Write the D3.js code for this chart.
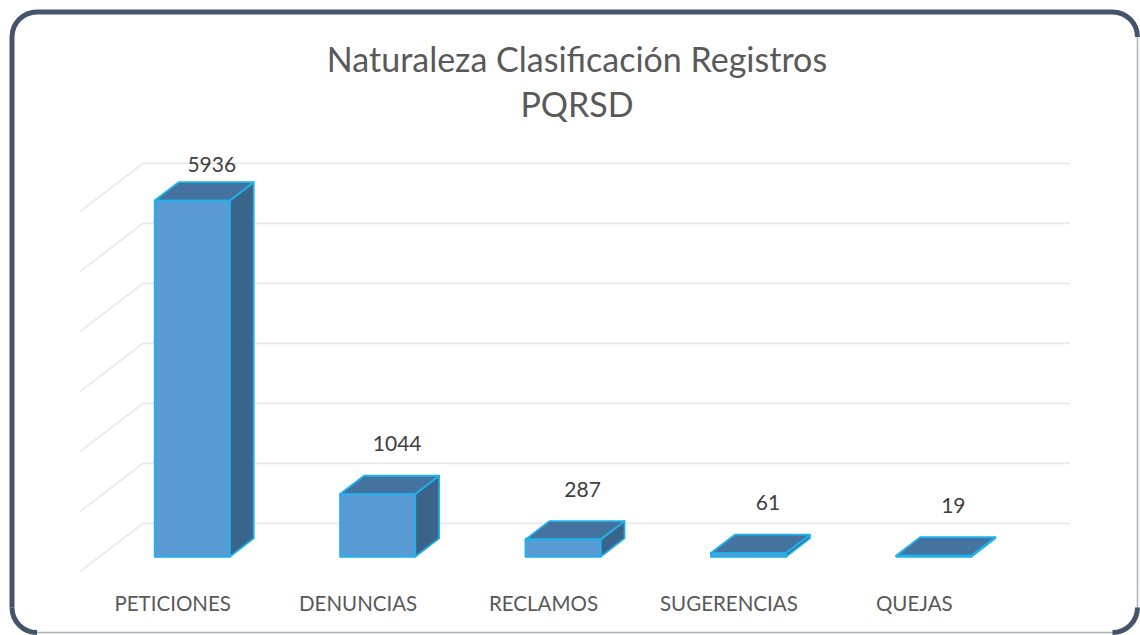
<!DOCTYPE html>
<html>
<head>
<meta charset="utf-8">
<script src="https://cdn.jsdelivr.net/npm/d3@7"></script>
<style>
  html, body { margin: 0; padding: 0; background: #ffffff; }
  svg { display: block; }
</style>
</head>
<body>
<svg id="chart" width="1140" height="635"></svg>
<script>
// ---- Data ----
const categories = ["PETICIONES", "DENUNCIAS", "RECLAMOS", "SUGERENCIAS", "QUEJAS"];
const values = [5936, 1044, 287, 61, 19];
const yTicks = [0, 1000, 2000, 3000, 4000, 5000, 6000];
const titleLines = ["Naturaleza Clasificación Registros", "PQRSD"];

// ---- Layout ----
const W = 1140, H = 635;
const svg = d3.select("#chart");

const frontLeft = 80, frontRight = 1007;   // front plane x extent
const floorFrontY = 571.7;                 // floor y at front plane
const depthDX = 63, depthDY = 48.3;        // full depth vector
const wallHeight = 360;
const barFront = 0.31, barBack = 0.69;     // bar position inside depth

const x = d3.scaleBand().domain(categories).range([frontLeft, frontRight])
  .paddingInner(0.595).paddingOuter(0.2975);
const y = d3.scaleLinear().domain([0, 6000]).range([0, wallHeight]);

function P(px, d, h) { return [px + d * depthDX, floorFrontY - d * depthDY - h]; }

// ---- Frame ----
const L = 12, T = 12, R = 1137.5, B = 632.5, r = 25;
svg.append("rect").attr("x", L).attr("y", T).attr("width", R - L).attr("height", B - T)
  .attr("rx", r).attr("fill", "#ffffff").attr("stroke", "#a9b0bc").attr("stroke-width", 1.5);
const dark = "#44546a";
svg.append("path")
  .attr("d", `M${L},${B - r} L${L},${T + r} A${r},${r} 0 0 1 ${L + r},${T} L${R - r},${T} A${r},${r} 0 0 1 ${R},${T + r}`)
  .attr("fill", "none").attr("stroke", dark).attr("stroke-width", 5);
svg.append("path")
  .attr("d", `M${L},${B - r} A${r},${r} 0 0 0 ${L + r},${B}`)
  .attr("fill", "none").attr("stroke", dark).attr("stroke-width", 5);
svg.append("path")
  .attr("d", `M${R},${B - r} A${r},${r} 0 0 1 ${R - r},${B}`)
  .attr("fill", "none").attr("stroke", dark).attr("stroke-width", 5);

// ---- Title ----
const title = svg.append("text").attr("text-anchor", "middle")
  .attr("font-family", "Lato, 'Open Sans', sans-serif").attr("font-size", 34).attr("fill", "#595959");
titleLines.forEach((t, i) => {
  title.append("tspan").attr("x", 577).attr("y", 72 + i * 45).text(t);
});

// ---- Gridlines (back wall + left wall) ----
const grid = svg.append("g").attr("stroke", "#e9e9e9").attr("stroke-width", 1.6).attr("fill", "none");
yTicks.forEach(t => {
  const a = P(frontLeft, 0, y(t));
  const b = P(frontLeft, 1, y(t));
  const c = P(frontRight, 1, y(t));
  grid.append("path").attr("d", `M${a[0]},${a[1]} L${b[0]},${b[1]} L${c[0]},${c[1]}`);
});

// ---- Bars ----
const bars = svg.append("g").attr("stroke", "#1fb1ea").attr("stroke-width", 1.8)
  .attr("stroke-linejoin", "round");
categories.forEach((c, i) => {
  const h = y(values[i]);
  const x0 = x(c), x1 = x(c) + x.bandwidth();
  const g = bars.append("g");
  const poly = pts => "M" + pts.map(p => p.join(",")).join("L") + "Z";
  // right side
  g.append("path").attr("fill", "#3a6489").attr("d", poly([
    P(x1, barFront, 0), P(x1, barBack, 0), P(x1, barBack, h), P(x1, barFront, h)]));
  // top
  g.append("path").attr("fill", "#44739f").attr("d", poly([
    P(x0, barFront, h), P(x1, barFront, h), P(x1, barBack, h), P(x0, barBack, h)]));
  // front
  g.append("path").attr("fill", "#5b9bd5").attr("d", poly([
    P(x0, barFront, 0), P(x1, barFront, 0), P(x1, barFront, h), P(x0, barFront, h)]));
});

// ---- Value labels ----
const topLimit = P(frontLeft, 1, wallHeight)[1];
svg.append("g").selectAll("text").data(categories).join("text")
  .attr("x", (c) => x(c) + x.bandwidth() / 2 + 0.62 * depthDX)
  .attr("y", (c, i) => Math.max(P(0, barBack, y(values[i]))[1] - 33, topLimit))
  .attr("dominant-baseline", "central")
  .attr("text-anchor", "middle")
  .attr("font-family", "Lato, 'Open Sans', sans-serif").attr("font-size", 21)
  .attr("fill", "#404040")
  .text((c, i) => values[i]);

// ---- Category labels ----
svg.append("g").selectAll("text").data(categories).join("text")
  .attr("x", c => x(c) + x.bandwidth() / 2)
  .attr("y", 611)
  .attr("text-anchor", "middle")
  .attr("font-family", "Lato, 'Open Sans', sans-serif").attr("font-size", 20.5)
  .attr("fill", "#595959")
  .text(c => c);
</script>
</body>
</html>
